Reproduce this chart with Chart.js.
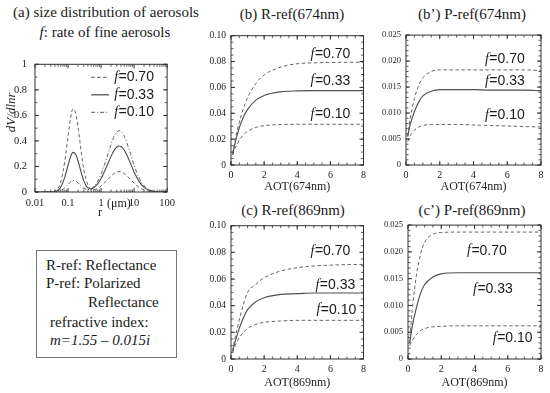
<!DOCTYPE html>
<html>
<head>
<meta charset="utf-8">
<script src="https://cdn.jsdelivr.net/npm/chart.js@4.4.0/dist/chart.umd.min.js"></script>
<style>
body { margin: 0; background: #fff; }
#page { position: relative; width: 550px; height: 393px; overflow: hidden;
  font-family: "Liberation Serif", "Times New Roman", serif; color: #1a1a1a; }
.t { position: absolute; font-size: 15px; line-height: 18px; white-space: nowrap; }
.c { text-align: center; }
canvas { position: absolute; }
#box { position: absolute; left: 36px; top: 250px; width: 141px; height: 108px;
  box-sizing: border-box; border: 1.5px solid #777; }
</style>
</head>
<body>
<div id="page">
  <div class="t c" style="left:0;width:212px;top:3px">(a) size distribution of aerosols</div>
  <div class="t c" style="left:0;width:210px;top:23px"><i>f</i>: rate of fine aerosols</div>
  <div class="t c" style="left:212px;width:160px;top:5px">(b) R-ref(674nm)</div>
  <div class="t c" style="left:392px;width:160px;top:5px">(b’) P-ref(674nm)</div>
  <div class="t c" style="left:213px;width:160px;top:201px">(c) R-ref(869nm)</div>
  <div class="t c" style="left:392px;width:160px;top:201px">(c’) P-ref(869nm)</div>

  <div id="box"></div>
  <div class="t" style="left:46px;top:256px">R-ref: Reflectance</div>
  <div class="t" style="left:46px;top:274px">P-ref: Polarized</div>
  <div class="t" style="left:88px;top:293px">Reflectance</div>
  <div class="t" style="left:50px;top:313px">refractive index:</div>
  <div class="t" style="left:50px;top:331px"><i>m=1.55 – 0.015i</i></div>

  <canvas id="sizeDist" width="180" height="170" style="left:0;top:50px"></canvas>
  <canvas id="rref674" width="175" height="170" style="left:195px;top:25px"></canvas>
  <canvas id="pref674" width="180" height="170" style="left:370px;top:25px"></canvas>
  <canvas id="rref869" width="175" height="178" style="left:195px;top:215px"></canvas>
  <canvas id="pref869" width="180" height="178" style="left:370px;top:215px"></canvas>
</div>
<script>
// (a) size distribution dV/dlnr against r (um)
const radius = [0.01, 0.02, 0.03, 0.04, 0.05, 0.06, 0.08, 0.1, 0.12, 0.14, 0.17, 0.2, 0.25, 0.3, 0.4, 0.5, 0.6, 0.8,
  1, 1.5, 2, 2.5, 3, 3.5, 4, 5, 6, 8, 10, 15, 20, 30, 50, 100];
const dv070 = [0, 0, 0.0008, 0.0075, 0.030, 0.077, 0.242, 0.436, 0.580, 0.652, 0.618, 0.513, 0.317, 0.178, 0.053, 0.022, 0.018, 0.029,
  0.047, 0.090, 0.124, 0.146, 0.156, 0.160, 0.158, 0.146, 0.129, 0.096, 0.070, 0.032, 0.016, 0.005, 0.0007, 0];
const dv033 = [0, 0, 0.0004, 0.0036, 0.014, 0.037, 0.116, 0.208, 0.277, 0.310, 0.295, 0.245, 0.153, 0.087, 0.032, 0.025, 0.034, 0.065,
  0.105, 0.203, 0.279, 0.328, 0.352, 0.360, 0.356, 0.329, 0.291, 0.216, 0.157, 0.073, 0.036, 0.011, 0.0017, 0];
const dv010 = [0, 0, 0.0001, 0.001, 0.004, 0.011, 0.034, 0.060, 0.080, 0.090, 0.086, 0.072, 0.046, 0.029, 0.019, 0.027, 0.043, 0.087,
  0.140, 0.271, 0.372, 0.437, 0.469, 0.480, 0.475, 0.438, 0.388, 0.288, 0.210, 0.097, 0.048, 0.014, 0.0022, 0];

// (b)-(c') reflectances against AOT
const aot = [0.1, 0.25, 0.5, 0.75, 1, 1.5, 2, 3, 4, 5, 6, 7, 8];
const r674_070 = [0.009, 0.0193, 0.0331, 0.0438, 0.052, 0.0631, 0.0696, 0.0757, 0.0783, 0.079, 0.0793, 0.0794, 0.0795];
const r674_033 = [0.008, 0.0172, 0.0288, 0.0371, 0.043, 0.0502, 0.0538, 0.0566, 0.0573, 0.0575, 0.0575, 0.0575, 0.0575];
const r674_010 = [0.008, 0.0131, 0.0192, 0.0233, 0.026, 0.0291, 0.0304, 0.0313, 0.0315, 0.0315, 0.0315, 0.0315, 0.0315];
const p674_070 = [0.0055, 0.009, 0.0128, 0.0153, 0.0168, 0.018, 0.0183, 0.0183, 0.0183, 0.0183, 0.0183, 0.0183, 0.0182];
const p674_033 = [0.0055, 0.0078, 0.0103, 0.0121, 0.0133, 0.0142, 0.0145, 0.0145, 0.0145, 0.0144, 0.0144, 0.0144, 0.0143];
const p674_010 = [0.0045, 0.0056, 0.0067, 0.0073, 0.0076, 0.0078, 0.0078, 0.0078, 0.0077, 0.0076, 0.0075, 0.0074, 0.0073];
const r869_070 = [0.006, 0.016, 0.029, 0.041, 0.050, 0.056, 0.061, 0.066, 0.0685, 0.0698, 0.0704, 0.0708, 0.071];
const r869_033 = [0.006, 0.013, 0.023, 0.031, 0.037, 0.043, 0.046, 0.0485, 0.049, 0.0495, 0.0495, 0.0495, 0.0495];
const r869_010 = [0.005, 0.010, 0.016, 0.020, 0.023, 0.026, 0.0275, 0.0285, 0.029, 0.029, 0.029, 0.029, 0.029];
const p869_070 = [0.003, 0.009, 0.0155, 0.0195, 0.0218, 0.0233, 0.0236, 0.0237, 0.0237, 0.0237, 0.0237, 0.0237, 0.0237];
const p869_033 = [0.003, 0.006, 0.0095, 0.0122, 0.0139, 0.0153, 0.0159, 0.0161, 0.0161, 0.0161, 0.0161, 0.0161, 0.0161];
const p869_010 = [0.0025, 0.0034, 0.0045, 0.0053, 0.0057, 0.006, 0.0061, 0.0062, 0.0062, 0.0062, 0.0062, 0.0062, 0.0062];

// tick values and labels
const radiusTicks = [0.01, 0.1, 1, 10, 100];
const radiusLabels = ["0.01", "0.1", "1", "10", "100"];
const dvTicks = [0, 0.2, 0.4, 0.6, 0.8, 1];
const dvLabels = ["0", "0.2", "0.4", "0.6", "0.8", "1"];
const aotTicks = [0, 2, 4, 6, 8];
const aotLabels = ["0", "2", "4", "6", "8"];
const rTicks = [0, 0.02, 0.04, 0.06, 0.08, 0.10];
const rLabels = ["0", "0.02", "0.04", "0.06", "0.08", "0.10"];
const pTicks = [0, 0.005, 0.010, 0.015, 0.020, 0.025];
const pLabels = ["0", "0.005", "0.010", "0.015", "0.020", "0.025"];
const fractions = ["0.70", "0.33", "0.10"];

const serif = '"Liberation Serif", "Times New Roman", serif';
const sans = '"Liberation Sans", Arial, sans-serif';
const dashed = [3.5, 2.5];
const dashDot = [4, 2, 1, 2];

function pts(xs, ys) {
	return xs.map((x, i) => ({ x: x, y: ys[i] }));
}

function drawF(ctx, px, py, value) {
	ctx.font = "italic 14px " + serif;
	ctx.fillText("f", px, py);
	const w = ctx.measureText("f").width;
	ctx.font = "14px " + sans;
	ctx.fillText("=" + value, px + w + 0.5, py);
}

const panelDecor = {
	id: "panelDecor",
	afterDatasetsDraw(chart, args, o) {
		const { ctx, chartArea: a, scales } = chart;
		const x = scales.x, y = scales.y;
		ctx.save();
		ctx.strokeStyle = "#333";
		ctx.lineWidth = 1;
		ctx.setLineDash([]);
		ctx.strokeRect(a.left, a.top, a.right - a.left, a.bottom - a.top);
		const xt = (v, len) => {
			const px = x.getPixelForValue(v);
			ctx.beginPath();
			ctx.moveTo(px, a.bottom); ctx.lineTo(px, a.bottom - len);
			ctx.moveTo(px, a.top); ctx.lineTo(px, a.top + len);
			ctx.stroke();
		};
		const yt = (v, len) => {
			const py = y.getPixelForValue(v);
			ctx.beginPath();
			ctx.moveTo(a.left, py); ctx.lineTo(a.left + len, py);
			ctx.moveTo(a.right, py); ctx.lineTo(a.right - len, py);
			ctx.stroke();
		};
		x.ticks.forEach(t => xt(t.value, 4));
		y.ticks.forEach(t => yt(t.value, 4));
		ctx.lineWidth = 0.8;
		if (o.logMinor) {
			for (let d = -2; d < 2; d++) {
				for (let m = 2; m < 10; m++) xt(m * Math.pow(10, d), 2.5);
			}
		} else {
			for (let v = x.min; v <= x.max + 1e-9; v += o.xMinor) xt(v, 2.5);
		}
		for (let v = y.min; v <= y.max + 1e-9; v += o.yMinor) yt(v, 2.5);

		ctx.fillStyle = "#1a1a1a";
		ctx.textBaseline = "middle";
		ctx.textAlign = "left";
		(o.notes || []).forEach(n => {
			drawF(ctx, x.getPixelForValue(n.x), y.getPixelForValue(n.y), n.v);
		});

		if (o.legend) {
			const styles = [dashed, [], dashDot];
			fractions.forEach((f, i) => {
				const py = a.top + 13 + i * 17.5;
				ctx.strokeStyle = "#555";
				ctx.lineWidth = i === 1 ? 1.3 : 1;
				ctx.setLineDash(styles[i]);
				ctx.beginPath();
				ctx.moveTo(a.right - 76, py); ctx.lineTo(a.right - 58, py);
				ctx.stroke();
				ctx.setLineDash([]);
				drawF(ctx, a.right - 53, py, f);
			});
			// axis names of panel (a)
			const x1 = x.getPixelForValue(1);
			ctx.font = "12px " + serif;
			ctx.fillText("(\u03bcm)", x1 + 6, a.bottom + 12);
			ctx.textAlign = "center";
			ctx.fillText("r", x1 - 1, a.bottom + 21);
			ctx.save();
			ctx.translate(12, a.top + 48);
			ctx.rotate(-Math.PI / 2);
			ctx.font = "italic 13px " + serif;
			ctx.fillText("dV/dlnr", 0, 0);
			ctx.restore();
		}
		ctx.restore();
	}
};

function axis(type, min, max, values, labels, size, pad, fit) {
	return {
		type: type,
		min: min,
		max: max,
		grid: { display: false, drawTicks: false },
		border: { display: false },
		afterBuildTicks: s => { s.ticks = values.map(v => ({ value: v })); },
		afterFit: fit,
		ticks: {
			autoSkip: false,
			maxRotation: 0,
			padding: pad,
			color: "#222",
			font: { family: serif, size: size },
			callback: (v, i) => labels[i],
		},
	};
}

function line(data, dash, solid) {
	return {
		data: data,
		borderColor: solid ? "#505050" : "#666",
		borderWidth: solid ? 1.15 : 1,
		borderDash: dash,
		pointRadius: 0,
		fill: false,
		cubicInterpolationMode: "monotone",
	};
}

function makePanel(id, p) {
	const x = axis(p.xType || "linear", p.xMin, p.xMax, p.xTicks, p.xLabels, p.xSize, p.xPad,
		s => { s.height = p.xHeight; });
	const y = axis("linear", 0, p.yMax, p.yTicks, p.yLabels, p.ySize, p.yPad,
		s => { s.width = p.yWidth; });
	if (p.xTitle) {
		x.title = {
			display: true,
			text: p.xTitle,
			color: "#222",
			padding: { top: 0, bottom: p.titlePad },
			font: { family: serif, size: 12 },
		};
	}
	return new Chart(document.getElementById(id), {
		type: "line",
		data: { datasets: p.series },
		options: {
			responsive: false,
			animation: false,
			layout: { padding: { top: p.padTop, right: p.padRight, left: 0, bottom: 0 } },
			scales: { x: x, y: y },
			plugins: {
				legend: { display: false },
				tooltip: { enabled: false },
				panelDecor: p.decor,
			},
		},
		plugins: [panelDecor],
	});
}

makePanel("sizeDist", {
	xType: "logarithmic", xMin: 0.01, xMax: 100, xTicks: radiusTicks, xLabels: radiusLabels,
	yMax: 1, yTicks: dvTicks, yLabels: dvLabels,
	xSize: 10.5, ySize: 10.5, xPad: 5, yPad: 8, xHeight: 28, yWidth: 35, padTop: 9, padRight: 9,
	series: [
		line(pts(radius, dv070), dashed, false),
		line(pts(radius, dv033), [], true),
		line(pts(radius, dv010), dashDot, false),
	],
	decor: { logMinor: true, yMinor: 0.1, legend: true },
});

function aotPanel(id, a, b, c, isP, xTitle, o) {
	makePanel(id, {
		xMin: 0, xMax: 8, xTicks: aotTicks, xLabels: aotLabels,
		yMax: isP ? 0.025 : 0.1, yTicks: isP ? pTicks : rTicks, yLabels: isP ? pLabels : rLabels,
		xSize: 10, ySize: isP ? 8.5 : 9.5, xPad: 4, yPad: 5,
		xHeight: o.xHeight, yWidth: o.yWidth, padTop: o.padTop, padRight: o.padRight,
		xTitle: xTitle, titlePad: o.titlePad,
		series: [line(pts(aot, a), dashed, false), line(pts(aot, b), [], true), line(pts(aot, c), dashed, false)],
		decor: { xMinor: 0.5, yMinor: isP ? 0.001 : 0.005, notes: o.notes },
	});
}

aotPanel("rref674", r674_070, r674_033, r674_010, false, "AOT(674nm)", {
	xHeight: 30, yWidth: 36, padTop: 8, padRight: 4, titlePad: 1,
	notes: [{ x: 4.8, y: 0.0856, v: "0.70" }, { x: 4.8, y: 0.0652, v: "0.33" }, { x: 4.8, y: 0.0394, v: "0.10" }],
});
aotPanel("pref674", p674_070, p674_033, p674_010, true, "AOT(674nm)", {
	xHeight: 30, yWidth: 36, padTop: 8, padRight: 9, titlePad: 1,
	notes: [{ x: 4.68, y: 0.0204, v: "0.70" }, { x: 4.68, y: 0.0162, v: "0.33" }, { x: 4.68, y: 0.0095, v: "0.10" }],
});
aotPanel("rref869", r869_070, r869_033, r869_010, false, "AOT(869nm)", {
	xHeight: 34, yWidth: 36, padTop: 9, padRight: 4, titlePad: 3,
	notes: [{ x: 4.8, y: 0.0807, v: "0.70" }, { x: 5.1, y: 0.0556, v: "0.33" }, { x: 5.16, y: 0.037, v: "0.10" }],
});
aotPanel("pref869", p869_070, p869_033, p869_010, true, "AOT(869nm)", {
	xHeight: 34, yWidth: 38, padTop: 9, padRight: 9, titlePad: 3,
	notes: [{ x: 3.55, y: 0.0202, v: "0.70" }, { x: 3.91, y: 0.013, v: "0.33" }, { x: 5.1, y: 0.0039, v: "0.10" }],
});
</script>
</body>
</html>
